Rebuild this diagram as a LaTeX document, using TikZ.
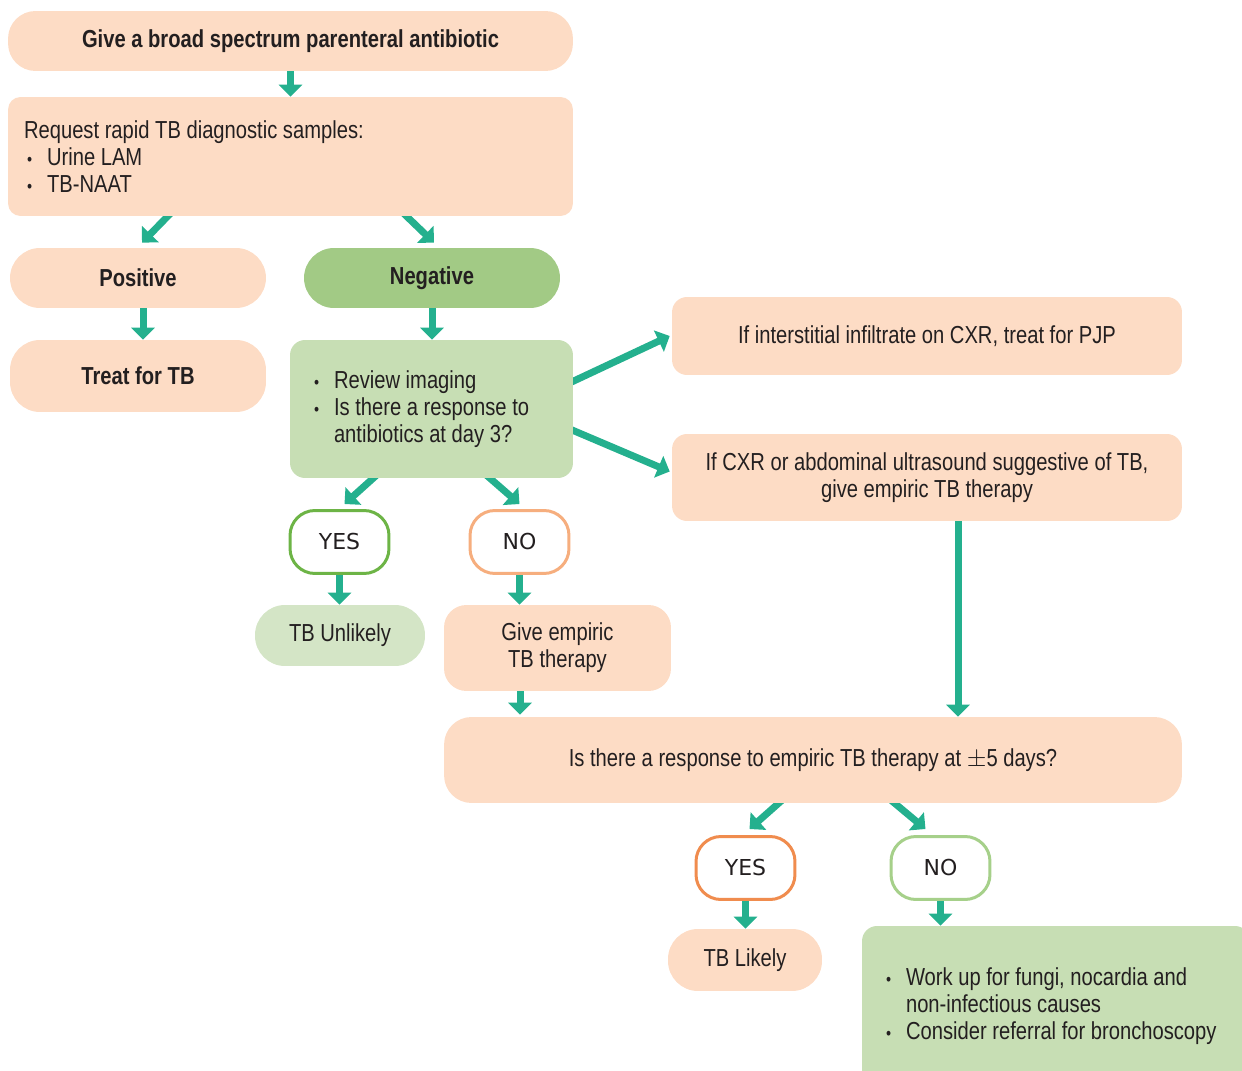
\documentclass[tikz,border=0pt]{standalone}
\usepackage{fontspec}
\setmainfont{Liberation Sans}[FakeStretch=0.82]
\newfontfamily\yesnofont{DejaVu Sans}
\usetikzlibrary{arrows.meta,backgrounds}
\definecolor{peach}{HTML}{FDDCC5}
\definecolor{neggreen}{HTML}{A2CA85}
\definecolor{revgreen}{HTML}{C7DEB4}
\definecolor{unlgreen}{HTML}{D4E5C6}
\definecolor{arrowgreen}{HTML}{24B08E}
\definecolor{ringgreen}{HTML}{6DB446}
\definecolor{ringlight}{HTML}{A6D08A}
\definecolor{ringorange}{HTML}{F6AE7E}
\definecolor{ringdark}{HTML}{F08C4E}
\definecolor{ink}{HTML}{231F20}
\newcommand{\bul}{\makebox[0.46cm][l]{\hspace{0.06cm}\fontsize{10}{10}\selectfont\textbullet}}

\begin{document}
\begin{tikzpicture}[x=0.02cm,y=-0.02cm,
    box/.style={fill=#1,text=ink,inner sep=0pt,align=center,font=\fontsize{14}{15.4}\selectfont},
    box/.default=peach,
    hd/.style={font=\fontsize{14}{15.4}\selectfont\bfseries},
    ring/.style={draw=#1,fill=white,line width=0.06cm,rounded corners=0.5cm,minimum width=1.98cm,minimum height=1.26cm,text=ink,font=\yesnofont\fontsize{12.5}{14}\selectfont},
    arr/.style={draw=arrowgreen,line width=0.14cm,-{Triangle[width=0.46cm,length=0.24cm]}}]
  \useasboundingbox (0,0) rectangle (1242,1071);
  \clip (0,0) rectangle (1242,1071);

  \node[box,hd,rounded corners=0.55cm,minimum width=11.3cm,minimum height=1.2cm] (give) at (290.5,41) {Give a broad spectrum parenteral antibiotic};
  \node[box,rounded corners=0.25cm,minimum width=11.3cm,minimum height=2.38cm,inner xsep=0.32cm,text width=10.66cm,align=flush left] (req) at (290.5,156.5)
    {Request rapid TB diagnostic samples:\\ \bul Urine LAM\\ \bul TB-NAAT};
  \node[box,hd,rounded corners=0.6cm,minimum width=5.12cm,minimum height=1.2cm] (pos) at (138,278) {Positive};
  \node[box=neggreen,hd,rounded corners=0.6cm,minimum width=5.12cm,minimum height=1.2cm] (neg) at (432,278) {Negative};
  \node[box,hd,rounded corners=0.6cm,minimum width=5.12cm,minimum height=1.44cm] (treat) at (138,376) {Treat for TB};
  \node[box=revgreen,rounded corners=0.3cm,minimum width=5.66cm,minimum height=2.76cm,inner xsep=0.42cm,text width=4.82cm,align=flush left] (rev) at (431.5,409)
    {\bul Review imaging\\ \bul Is there a response to\\ \hspace*{0.46cm}antibiotics at day 3?};
  \node[box,rounded corners=0.3cm,minimum width=10.2cm,minimum height=1.56cm] (pjp) at (927,336) {If interstitial infiltrate on CXR, treat for PJP};
  \node[box,rounded corners=0.3cm,minimum width=10.2cm,minimum height=1.74cm] (cxr) at (927,477.5) {If CXR or abdominal ultrasound suggestive of TB,\\ give empiric TB therapy};
  \node[ring=ringgreen] (yes1) at (339.5,542) {YES};
  \node[ring=ringorange] (no1) at (519.5,542) {NO};
  \node[box=unlgreen,rounded corners=0.6cm,minimum width=3.4cm,minimum height=1.22cm] (unl) at (340,635.5) {TB Unlikely};
  \node[box,rounded corners=0.45cm,minimum width=4.54cm,minimum height=1.72cm] (emp) at (557.5,648) {Give empiric\\ TB therapy};
  \node[box,rounded corners=0.55cm,minimum width=14.76cm,minimum height=1.72cm] (resp) at (813,760) {Is there a response to empiric TB therapy at $\pm$5 days?};
  \node[ring=ringdark] (yes2) at (745.5,868) {YES};
  \node[ring=ringlight] (no2) at (940.5,868) {NO};
  \node[box,rounded corners=0.6cm,minimum width=3.08cm,minimum height=1.24cm] (lik) at (745,960) {TB Likely};
  \node[box=revgreen,rounded corners=0.3cm,minimum width=7.76cm,minimum height=3.2cm,inner xsep=0.42cm,text width=6.92cm,align=flush left] (work) at (1056,1006)
    {\bul Work up for fungi, nocardia and\\ \hspace*{0.46cm}non-infectious causes\\ \bul Consider referral for bronchoscopy};
  \coordinate (cxrout) at ([shift={(31,0)}]cxr.south);

  \begin{pgfonlayer}{background}
    \foreach \a/\b in {give/req,neg/rev,yes1/unl,no1/emp,yes2/lik,no2/work}
      \draw[arr] ([shift={(0,-4)}]\a.south) -- (\a.south |- \b.north);
    \draw[arr] ([shift={(5,-4)}]pos.south) -- ([shift={(5,0)}]treat.north);
    \draw[arr] ([shift={(-37.5,-4)}]emp.south) -- ([shift={(-37.5,-2)}]emp.south |- resp.north);
    \draw[arr] ([shift={(0,-4)}]cxrout) -- (cxrout |- resp.north);
    \draw[arr] ([shift={(-119,-4)}]req.south) -- ([shift={(4,-5)}]pos.north);
    \draw[arr] ([shift={(112,-4)}]req.south) -- ([shift={(2,-5)}]neg.north);
    \draw[arr] ([shift={(-6,-25)}]rev.east) -- ([shift={(-2,0)}]pjp.west);
    \draw[arr] ([shift={(-6,19)}]rev.east) -- ([shift={(-2,-6)}]cxr.west);
    \draw[arr] ([shift={(-54,-4)}]rev.south) -- ([shift={(5,-5)}]yes1.north);
    \draw[arr] ([shift={(54,-4)}]rev.south) -- ([shift={(0,-5)}]no1.north);
    \draw[arr] ([shift={(-30,-4)}]resp.south) -- ([shift={(4,-6)}]yes2.north);
    \draw[arr] ([shift={(77,-4)}]resp.south) -- ([shift={(-15,-6)}]no2.north);
  \end{pgfonlayer}
\end{tikzpicture}
\end{document}
